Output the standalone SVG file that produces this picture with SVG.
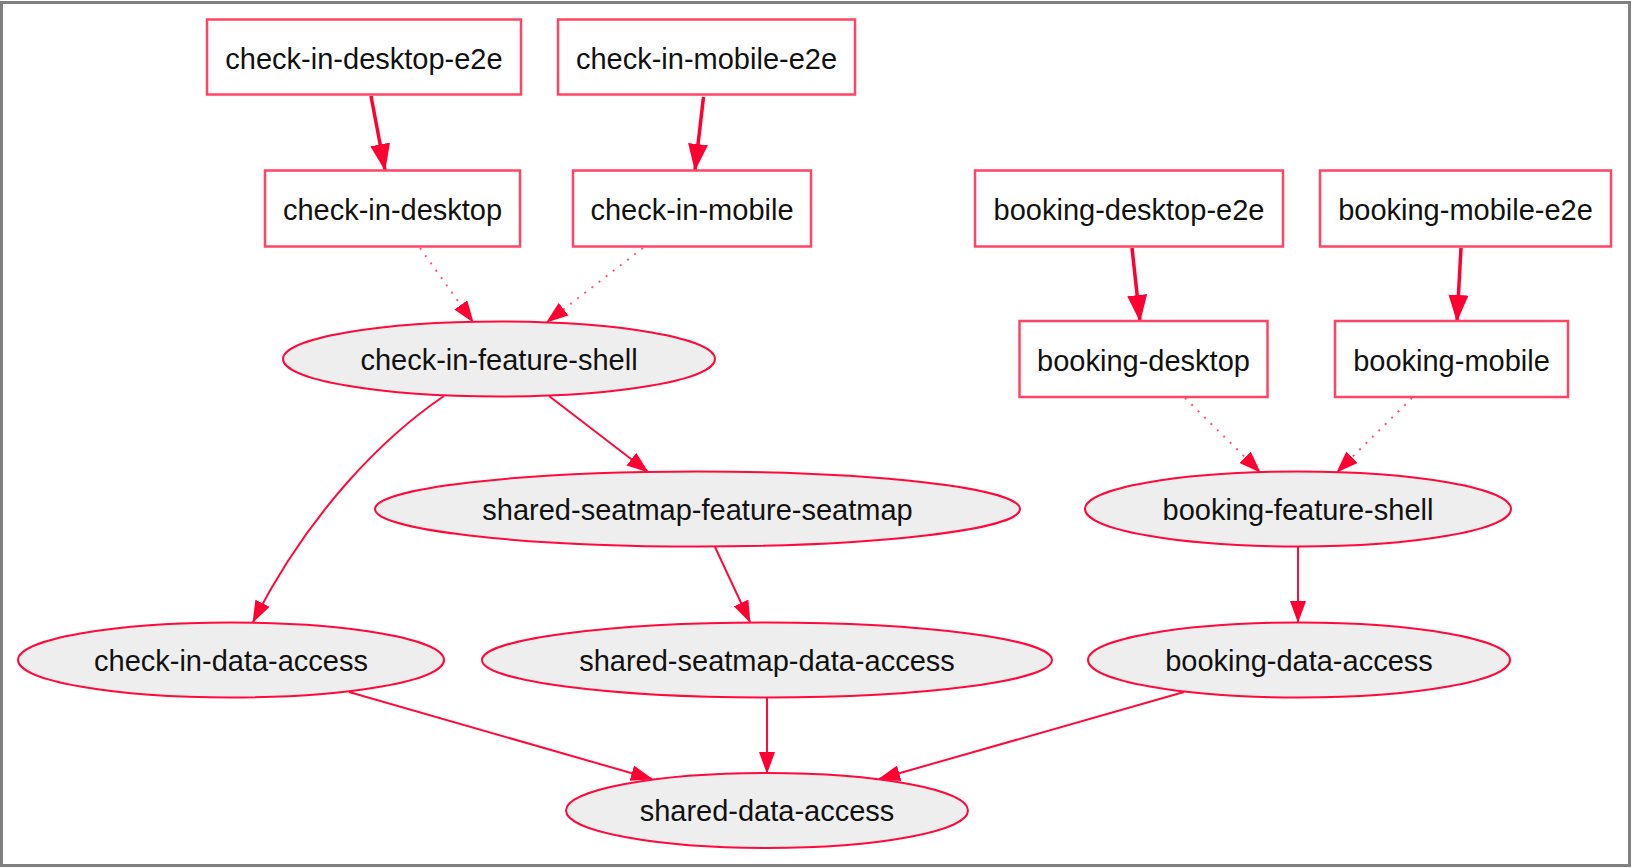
<svg xmlns="http://www.w3.org/2000/svg" width="1632" height="868" viewBox="0 0 1632 868">
  <defs>
    <style>
      .box { fill: #ffffff; stroke: #ff4466; stroke-width: 2.5; }
      .ell { fill: #eeeeee; stroke: #ff0a3c; stroke-width: 2; }
      .lbl { font-family: "Liberation Sans", Arial, Helvetica, sans-serif; font-size: 29px; fill: #111111; text-anchor: middle; }
      .e-thick { fill: none; stroke: #ff0033; stroke-width: 3.5; }
      .e-norm { fill: none; stroke: #ff0a3c; stroke-width: 2; }
      .e-dot { fill: none; stroke: #ff5577; stroke-width: 2; stroke-dasharray: 2 7; }
    </style>
    <marker id="arrowB" markerUnits="userSpaceOnUse" markerWidth="27" markerHeight="20" viewBox="0 0 27 20" refX="26" refY="10" orient="auto">
      <path d="M0,0 L27,10 L0,20 z" fill="#ff0033"/>
    </marker>
    <marker id="arrowN" markerUnits="userSpaceOnUse" markerWidth="22" markerHeight="16" viewBox="0 0 22 16" refX="21" refY="8" orient="auto">
      <path d="M0,0 L22,8 L0,16 z" fill="#ff0033"/>
    </marker>
  </defs>

  <rect x="1.5" y="2.5" width="1628" height="863" fill="#ffffff" stroke="#808080" stroke-width="3"/>

  <g id="connectors">
    <path class="e-thick" d="M371,96 L385,170" marker-end="url(#arrowB)"/>
    <path class="e-thick" d="M703.5,97 L695,170" marker-end="url(#arrowB)"/>
    <path class="e-thick" d="M1132,248 L1140,321" marker-end="url(#arrowB)"/>
    <path class="e-thick" d="M1461,248 L1457,321" marker-end="url(#arrowB)"/>
    <path class="e-dot" d="M420,248 L473,322" marker-end="url(#arrowN)"/>
    <path class="e-dot" d="M643,248 L547,322" marker-end="url(#arrowN)"/>
    <path class="e-dot" d="M1185,398 L1260,472" marker-end="url(#arrowN)"/>
    <path class="e-dot" d="M1412,398 L1337,472" marker-end="url(#arrowN)"/>
    <path class="e-norm" d="M444,396 C385,436 310,510 253,622" marker-end="url(#arrowN)"/>
    <path class="e-norm" d="M549,396 L648,472" marker-end="url(#arrowN)"/>
    <path class="e-norm" d="M715,547 L750,622" marker-end="url(#arrowN)"/>
    <path class="e-norm" d="M1298,547 L1298,622" marker-end="url(#arrowN)"/>
    <path class="e-norm" d="M349,692 L652,779" marker-end="url(#arrowN)"/>
    <path class="e-norm" d="M767,697 L767,773" marker-end="url(#arrowN)"/>
    <path class="e-norm" d="M1184,692 L879,779" marker-end="url(#arrowN)"/>
  </g>

  <g id="check-in-desktop-e2e">
    <rect class="box" x="207" y="19.5" width="314" height="75"/>
    <text class="lbl" x="364" y="69">check-in-desktop-e2e</text>
  </g>
  <g id="check-in-mobile-e2e">
    <rect class="box" x="558" y="19.5" width="297" height="75"/>
    <text class="lbl" x="706.5" y="69">check-in-mobile-e2e</text>
  </g>
  <g id="check-in-desktop">
    <rect class="box" x="265" y="170.5" width="255" height="76"/>
    <text class="lbl" x="392.5" y="220">check-in-desktop</text>
  </g>
  <g id="check-in-mobile">
    <rect class="box" x="573" y="170.5" width="238" height="76"/>
    <text class="lbl" x="692" y="220">check-in-mobile</text>
  </g>
  <g id="booking-desktop-e2e">
    <rect class="box" x="975" y="170.5" width="308" height="76"/>
    <text class="lbl" x="1129" y="220">booking-desktop-e2e</text>
  </g>
  <g id="booking-mobile-e2e">
    <rect class="box" x="1320" y="170.5" width="291" height="76"/>
    <text class="lbl" x="1465.5" y="220">booking-mobile-e2e</text>
  </g>
  <g id="booking-desktop">
    <rect class="box" x="1019.5" y="321" width="248" height="76"/>
    <text class="lbl" x="1143.5" y="371">booking-desktop</text>
  </g>
  <g id="booking-mobile">
    <rect class="box" x="1335" y="321" width="233" height="76"/>
    <text class="lbl" x="1451.5" y="371">booking-mobile</text>
  </g>

  <g id="check-in-feature-shell">
    <ellipse class="ell" cx="499" cy="359" rx="216" ry="37.5"/>
    <text class="lbl" x="499" y="370">check-in-feature-shell</text>
  </g>
  <g id="shared-seatmap-feature-seatmap">
    <ellipse class="ell" cx="697.5" cy="509" rx="322.5" ry="37.5"/>
    <text class="lbl" x="697.5" y="520">shared-seatmap-feature-seatmap</text>
  </g>
  <g id="booking-feature-shell">
    <ellipse class="ell" cx="1298" cy="509" rx="213" ry="37.5"/>
    <text class="lbl" x="1298" y="520">booking-feature-shell</text>
  </g>
  <g id="check-in-data-access">
    <ellipse class="ell" cx="231" cy="660" rx="213" ry="37.5"/>
    <text class="lbl" x="231" y="671">check-in-data-access</text>
  </g>
  <g id="shared-seatmap-data-access">
    <ellipse class="ell" cx="767" cy="660" rx="285" ry="37.5"/>
    <text class="lbl" x="767" y="671">shared-seatmap-data-access</text>
  </g>
  <g id="booking-data-access">
    <ellipse class="ell" cx="1299" cy="660" rx="211" ry="37.5"/>
    <text class="lbl" x="1299" y="671">booking-data-access</text>
  </g>
  <g id="shared-data-access">
    <ellipse class="ell" cx="767" cy="810.5" rx="201" ry="37.5"/>
    <text class="lbl" x="767" y="821">shared-data-access</text>
  </g>
</svg>
